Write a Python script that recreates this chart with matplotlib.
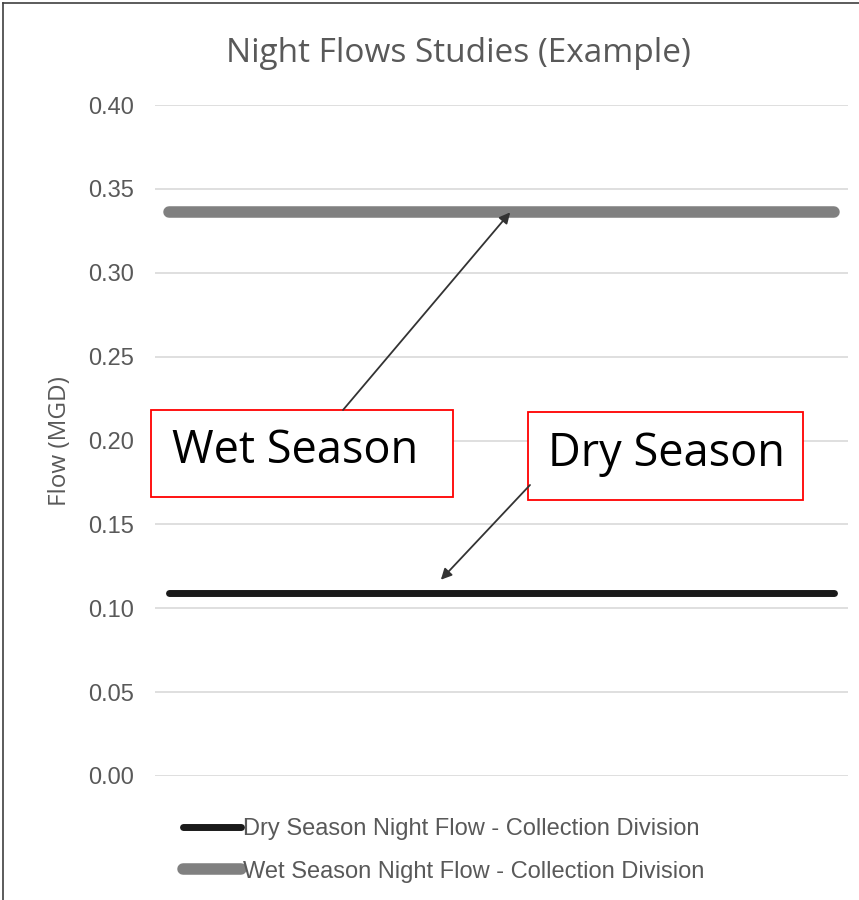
import numpy as np
import matplotlib.pyplot as plt
from matplotlib.lines import Line2D
from matplotlib.patches import Rectangle

# night flow readings (MGD), one per sample slot
n_slots = 24
slots = np.arange(n_slots)
dry_flow = [0.109] * n_slots
wet_flow = [0.336] * n_slots

series_labels = ['Dry Season Night Flow - Collection Division',
                 'Wet Season Night Flow - Collection Division']
yticks = [0.00, 0.05, 0.10, 0.15, 0.20, 0.25, 0.30, 0.35, 0.40]

title_font = 'Open Sans'
tick_font = 'Liberation Sans'
grey_txt = '#595959'

fig = plt.figure(figsize=(8.59, 9.0), dpi=100)
ax = fig.add_axes([155 / 859, 1 - 776 / 900, (848 - 155) / 859, (776 - 105) / 900])

ax.plot(slots, dry_flow, color='#1a1a1a', lw=5.0, solid_capstyle='round', label=series_labels[0], zorder=3)
ax.plot(slots, wet_flow, color='#808080', lw=8.3, solid_capstyle='round', label=series_labels[1], zorder=3)

ax.set_xlim(-0.5, n_slots - 0.5)
ax.set_ylim(0, 0.40)
ax.set_yticks(yticks)
ax.set_yticklabels([f'{v:.2f}' for v in yticks], fontsize=17, color=grey_txt, family=tick_font)
ax.set_xticks([])
ax.tick_params(axis='y', length=0, pad=15)
ax.grid(axis='y', color='#d9d9d9', lw=1.2)
ax.set_axisbelow(True)
for s in ax.spines.values():
    s.set_visible(False)

fig.text(458 / 859, 1 - 54 / 900, 'Night Flows Studies (Example)', ha='center', va='center',
         fontsize=24, color=grey_txt, family=title_font)
fig.text(60 / 859, 1 - 441 / 900, 'Flow (MGD)', rotation=90, ha='center', va='center',
         fontsize=17.5, color=grey_txt, family=title_font)

# callout boxes
def axfrac(px, py):
    return (px - 155) / (848 - 155), (776 - py) / (776 - 105)

for (x0, y0, x1, y1), txt, (tx, ty) in [
        ((151, 410, 453, 497), 'Wet Season', (172, 463)),
        ((528, 412, 803, 500), 'Dry Season', (548, 466))]:
    bx0, by1 = axfrac(x0, y0)
    bx1, by0 = axfrac(x1, y1)
    ax.add_patch(Rectangle((bx0, by0), bx1 - bx0, by1 - by0, transform=ax.transAxes,
                           facecolor='white', edgecolor='#ff0000', lw=1.3, clip_on=False, zorder=4))
    tfx, tfy = axfrac(tx, ty)
    ax.text(tfx, tfy, txt, transform=ax.transAxes, ha='left', va='baseline',
            fontsize=32.5, color='black', family=title_font, zorder=5)

# arrows from the boxes to the lines
arrow_kw = dict(arrowstyle='-|>', color='#333333', lw=1.3, mutation_scale=16, shrinkA=0, shrinkB=0)
ax.annotate('', xy=(11.8, 0.336), xycoords='data', xytext=axfrac(343, 410),
            textcoords='axes fraction', arrowprops=arrow_kw, zorder=5)
ax.annotate('', xy=(9.4, 0.117), xycoords='data', xytext=axfrac(530, 485),
            textcoords='axes fraction', arrowprops=arrow_kw, zorder=5)

leg = fig.legend(loc='upper left', bbox_to_anchor=(183 / 859, 1 - 818 / 900), frameon=False,
                 prop={'family': tick_font, 'size': 17}, handlelength=2.45, handletextpad=0.1,
                 borderpad=0, borderaxespad=0, labelspacing=0.87)
for t in leg.get_texts():
    t.set_color(grey_txt)

# chart frame (left and top edges)
fig.add_artist(Line2D([3 / 859, 3 / 859], [0, 1 - 3 / 900], color='#404040', lw=1.2))
fig.add_artist(Line2D([3 / 859, 1], [1 - 3 / 900, 1 - 3 / 900], color='#404040', lw=1.2))

fig.savefig('out.png', dpi=100)
